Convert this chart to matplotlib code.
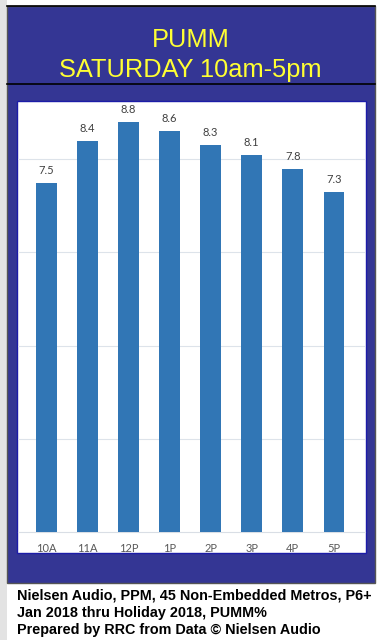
import matplotlib
matplotlib.use("Agg")
import matplotlib.pyplot as plt
from matplotlib.patches import Rectangle
from matplotlib.lines import Line2D

# data
hours = ["10A", "11A", "12P", "1P", "2P", "3P", "4P", "5P"]
pumm = [7.5, 8.4, 8.8, 8.6, 8.3, 8.1, 7.8, 7.3]
title_lines = ["PUMM", "SATURDAY 10am-5pm"]
footer_lines = ["Nielsen Audio, PPM, 45 Non-Embedded Metros, P6+",
                "Jan 2018 thru Holiday 2018, PUMM%",
                "Prepared by RRC from Data \u00a9 Nielsen Audio"]

W, H = 381, 640
fig = plt.figure(figsize=(W / 100, H / 100), dpi=100, facecolor="white")

def fx(x):
    return x / W

def fy(y):
    return 1 - y / H

# grey strip on the left
fig.patches.append(Rectangle((0, 0), fx(7), 1, transform=fig.transFigure,
                             facecolor="#e3e3e3", edgecolor="none", zorder=0))
# navy panel
fig.patches.append(Rectangle((fx(7), fy(583)), fx(368), 577 / H, transform=fig.transFigure,
                             facecolor="#343694", edgecolor="#555555", lw=1, zorder=1))
# black lines on top and under title
for yy in (6, 84):
    fig.lines.append(Line2D([fx(7), fx(375)], [fy(yy), fy(yy)], transform=fig.transFigure,
                            color="black", lw=1.2, zorder=2))
# white chart area
fig.patches.append(Rectangle((fx(17), fy(553)), fx(349), 452 / H, transform=fig.transFigure,
                             facecolor="white", edgecolor="#1c1ca8", lw=1, zorder=2))

fig.text(0.5, fy(40), title_lines[0], ha="center", va="center", color="#ffff33",
         fontsize=18.3, family="Liberation Sans", zorder=3)
fig.text(0.5, fy(70), title_lines[1], ha="center", va="center", color="#ffff33",
         fontsize=18.3, family="Liberation Sans", zorder=3)

ax = fig.add_axes([fx(18), fy(532), fx(347), 431 / H], zorder=4)
ax.patch.set_alpha(0)
x = range(len(hours))
bars = ax.bar(x, pumm, width=0.5, color="#3176b5", zorder=3)
for b, v in zip(bars, pumm):
    ax.annotate(f"{v:.1f}", (b.get_x() + b.get_width() / 2, v), xytext=(0, 5),
                textcoords="offset points", ha="center", va="bottom",
                fontsize=8, color="#404040", family="Lato")

ax.set_xlim(-0.69, 7.76)
ax.set_ylim(0, 9.25)
ax.set_yticks([2, 4, 6, 8])
ax.yaxis.grid(True, color="#dde3ea", lw=0.8)
ax.set_axisbelow(True)
ax.tick_params(axis="y", left=False, labelleft=False)
ax.set_xticks(list(x))
ax.set_xticklabels(hours, fontsize=8, color="#595959", family="Lato")
ax.tick_params(axis="x", length=0, pad=8)
for s in ("top", "left", "right"):
    ax.spines[s].set_visible(False)
ax.spines["bottom"].set_color("#d9dee5")

for i, line in enumerate(footer_lines):
    fig.text(fx(17), fy(596 + 17 * i), line, ha="left", va="center", fontsize=10.4,
             fontweight="bold", family="Liberation Sans", color="black")

fig.savefig("out.png", dpi=100)
